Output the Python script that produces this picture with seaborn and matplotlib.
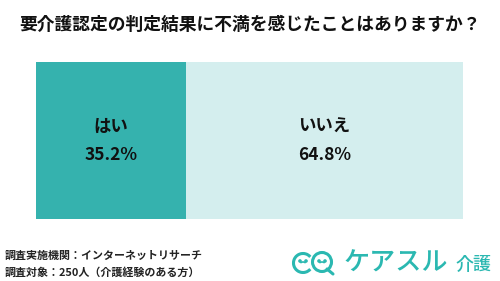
import matplotlib
matplotlib.use("Agg")
import matplotlib.pyplot as plt
import seaborn as sns
import pandas as pd
from matplotlib.patches import Circle, Arc

categories = ["はい", "いいえ"]
values = [35.2, 64.8]
title = "要介護認定の判定結果に不満を感じたことはありますか？"
footer_lines = ["調査実施機関：インターネットリサーチ", "調査対象：250人（介護経験のある方）"]

DARK = "#35B2AE"
LIGHT = "#D4EEEE"
LOGO = "#2BB8B1"

sns.set_theme(style="white")
plt.rcParams['font.family'] = ['Noto Sans CJK JP', 'DejaVu Sans']

W, H = 500, 281
fig = plt.figure(figsize=(W / 100, H / 100), dpi=100)
fig.patch.set_facecolor("white")

x0, x1, ytop, ybot = 36, 463, 62, 219
ax = fig.add_axes([x0 / W, 1 - ybot / H, (x1 - x0) / W, (ybot - ytop) / H])

total = sum(values)
df_total = pd.DataFrame({"row": ["r"], "v": [total]})
df_first = pd.DataFrame({"row": ["r"], "v": [values[0]]})
sns.barplot(data=df_total, x="v", y="row", color=LIGHT, width=1.0, ax=ax,
            saturation=1, edgecolor="none", linewidth=0)
sns.barplot(data=df_first, x="v", y="row", color=DARK, width=1.0, ax=ax,
            saturation=1, edgecolor="none", linewidth=0)
ax.set_xlim(0, total)
ax.set_ylim(0.5, -0.5)
ax.axis("off")

left = 0
for cat, v in zip(categories, values):
    cx = left + v / 2
    ax.text(cx, -0.085, cat, ha="center", va="center", fontsize=12.5,
            fontweight="bold", color="#111111")
    ax.text(cx, 0.095, f"{v:.1f}%", ha="center", va="center", fontsize=12.5,
            fontweight="bold", color="#111111")
    left += v

fig.text(0.5, 1 - 25 / H, title, ha="center", va="center", fontsize=12.8,
         fontweight="bold", color="#111111")

fig.text(5 / W, 1 - 256 / H, footer_lines[0], ha="left", va="center",
         fontsize=7.9, fontweight="bold", color="#222222")
fig.text(5 / W, 1 - 272 / H, footer_lines[1], ha="left", va="center",
         fontsize=7.9, fontweight="bold", color="#222222")

# logo
lax = fig.add_axes([0, 0, 1, 1])
lax.set_xlim(0, W)
lax.set_ylim(H, 0)
lax.axis("off")
lax.set_aspect("equal")
lax.add_patch(Arc((303, 263), 19, 19, theta1=40, theta2=320, color=LOGO, lw=2.2))
lax.add_patch(Circle((322, 262), 9.5, fill=False, ec=LOGO, lw=2.2))
lax.plot([327, 333], [269, 274], color=LOGO, lw=2.2, solid_capstyle="round")
for cx in (303, 322):
    lax.add_patch(Circle((cx - 3, 261), 1.1, color=LOGO))
    lax.add_patch(Circle((cx + 3, 261), 1.1, color=LOGO))
    lax.add_patch(Arc((cx, 264), 6, 4, theta1=200, theta2=340, color=LOGO, lw=1.2))
lax.text(344, 263, "ケアスル", ha="left", va="center", fontsize=18.8,
         color=LOGO, fontweight="medium")
lax.text(455, 265, "介護", ha="left", va="center", fontsize=13,
         color=LOGO, fontweight="medium")

fig.savefig("out.png", dpi=100, facecolor="white")
